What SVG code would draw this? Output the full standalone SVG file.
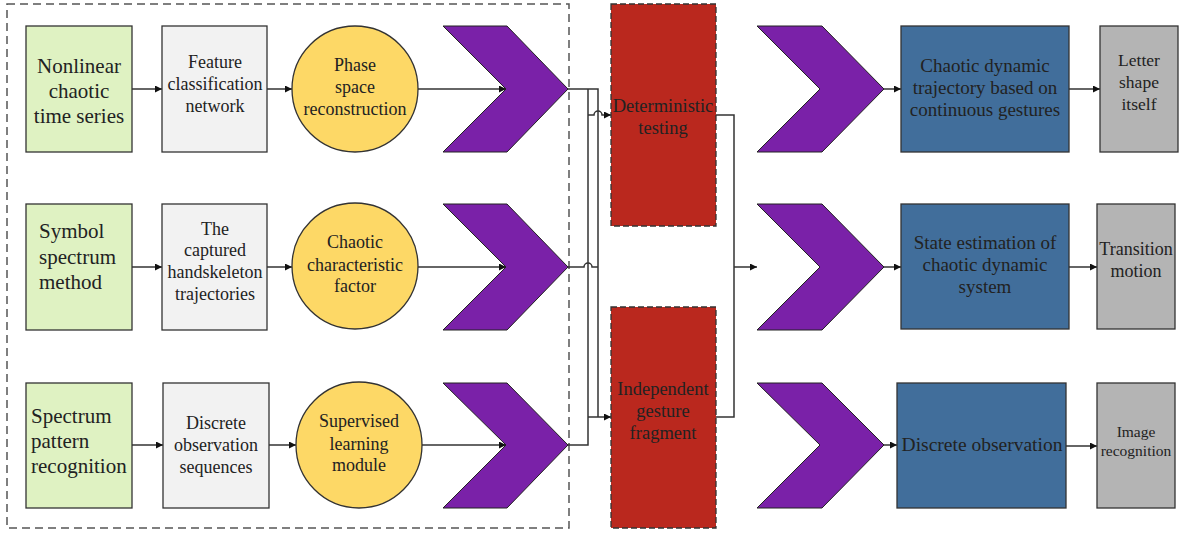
<svg xmlns="http://www.w3.org/2000/svg" width="1183" height="533" viewBox="0 0 1183 533">
<style>
text{font-family:"Liberation Serif","Times New Roman",serif;fill:#222;text-anchor:middle}
.green{fill:#DFF2C2;stroke:#333;stroke-width:1.3}
.lgray{fill:#F2F2F2;stroke:#333;stroke-width:1.3}
.yel{fill:#FDD866;stroke:#333;stroke-width:1.3}
.chev{fill:#7A21A8;stroke:#222;stroke-width:1}
.red{fill:#BA281E;stroke:#333;stroke-width:1.3;stroke-dasharray:6 3}
.blue{fill:#416E9B;stroke:#333;stroke-width:1.3}
.dgray{fill:#B4B4B4;stroke:#333;stroke-width:1.3}
.ln{fill:none;stroke:#333;stroke-width:1.5}
.arr{fill:none;stroke:#333;stroke-width:1.5;marker-end:url(#ah)}
.g21{font-size:21px}
.g18{font-size:18px}
.l{text-anchor:start}
</style>
<defs>
<marker id="ah" viewBox="0 0 10 10" refX="10" refY="5" markerWidth="7" markerHeight="7" orient="auto" markerUnits="userSpaceOnUse">
<path d="M0,0 L10,5 L0,10 z" fill="#111"/>
</marker>
</defs>

<rect x="7" y="4" width="562" height="524" fill="none" stroke="#555" stroke-width="1.5" stroke-dasharray="8 5"/>

<g id="connectors">
<path class="arr" d="M132,89 H162"/>
<path class="arr" d="M267,89 H292"/>
<path class="arr" d="M418,89 H506"/>
<path class="arr" d="M132,267 H162"/>
<path class="arr" d="M267,267 H292"/>
<path class="arr" d="M418,267 H506"/>
<path class="arr" d="M132,445 H163"/>
<path class="arr" d="M269,445 H296"/>
<path class="arr" d="M422,445 H506"/>
<path class="ln" d="M568,89 H598 V417"/>
<path class="ln" d="M568,267 H584 A4,4 0 0 1 592,267 H598"/>
<path class="ln" d="M568,445 H588 V89"/>
<path class="arr" d="M588,115 H594 A4,4 0 0 1 602,115 H611"/>
<path class="arr" d="M588,417 H611"/>
<path class="ln" d="M716,115 H734 V417 H716"/>
<path class="arr" d="M734,267 H757"/>
<path class="arr" d="M884,89 H901"/>
<path class="arr" d="M884,267 H901"/>
<path class="arr" d="M884,445 H897"/>
<path class="arr" d="M1069,89 H1100"/>
<path class="arr" d="M1069,267 H1097"/>
<path class="arr" d="M1066,446 H1097"/>
</g>

<g id="n1"><rect class="green" x="26" y="26" width="106" height="126"/>
<text class="g21" x="79" y="73">Nonlinear</text><text class="g21" x="79" y="98">chaotic</text><text class="g21" x="79" y="123">time series</text></g>
<g id="n2"><rect class="lgray" x="162" y="26" width="105" height="126"/>
<text class="g18" x="215" y="68">Feature</text><text class="g18" x="215" y="90">classification</text><text class="g18" x="215" y="112">network</text></g>
<g id="n3"><circle class="yel" cx="355" cy="89" r="63"/>
<text class="g18" x="355" y="71">Phase</text><text class="g18" x="355" y="93">space</text><text class="g18" x="355" y="115">reconstruction</text></g>
<g id="n4"><polygon class="chev" points="443,26 507,26 568,89 507,152 443,152 506,89"/></g>

<g id="n5"><rect class="green" x="26" y="204" width="106" height="126"/>
<text class="g21 l" x="39" y="238">Symbol</text><text class="g21 l" x="39" y="264">spectrum</text><text class="g21 l" x="39" y="289">method</text></g>
<g id="n6"><rect class="lgray" x="162" y="204" width="105" height="126"/>
<text class="g18" x="215" y="235">The</text><text class="g18" x="215" y="256">captured</text><text class="g18" x="215" y="278">handskeleton</text><text class="g18" x="215" y="300">trajectories</text></g>
<g id="n7"><circle class="yel" cx="355" cy="266" r="63"/>
<text class="g18" x="355" y="248">Chaotic</text><text class="g18" x="355" y="271">characteristic</text><text class="g18" x="355" y="292">factor</text></g>
<g id="n8"><polygon class="chev" points="443,204 507,204 568,267 507,330 443,330 506,267"/></g>

<g id="n9"><rect class="green" x="26" y="383" width="106" height="125"/>
<text class="g21 l" x="31" y="423">Spectrum</text><text class="g21 l" x="31" y="448">pattern</text><text class="g21 l" x="31" y="473">recognition</text></g>
<g id="n10"><rect class="lgray" x="163" y="383" width="106" height="125"/>
<text class="g18" x="216" y="429">Discrete</text><text class="g18" x="216" y="451">observation</text><text class="g18" x="216" y="473">sequences</text></g>
<g id="n11"><circle class="yel" cx="359" cy="445" r="63"/>
<text class="g18" x="359" y="427">Supervised</text><text class="g18" x="359" y="450">learning</text><text class="g18" x="359" y="471">module</text></g>
<g id="n12"><polygon class="chev" points="443,383 507,383 568,445 507,508 443,508 506,445"/></g>

<g id="n13"><rect class="red" x="611" y="4" width="105" height="222"/>
<text x="663" y="112" style="font-size:18.5px">Deterministic</text><text x="663" y="134" style="font-size:18.5px">testing</text></g>
<g id="n14"><rect class="red" x="611" y="307" width="105" height="221"/>
<text x="663" y="395" style="font-size:18.5px">Independent</text><text x="663" y="417" style="font-size:18.5px">gesture</text><text x="663" y="439" style="font-size:18.5px">fragment</text></g>

<g id="n15"><polygon class="chev" points="757,26 822,26 884,89 822,152 757,152 820,89"/></g>
<g id="n16"><polygon class="chev" points="757,204 822,204 884,267 822,330 757,330 820,267"/></g>
<g id="n17"><polygon class="chev" points="757,383 822,383 884,445 822,508 757,508 820,445"/></g>

<g id="n18"><rect class="blue" x="901" y="26" width="168" height="126"/>
<text x="985" y="72" style="font-size:19px">Chaotic dynamic</text><text x="985" y="94" style="font-size:19px">trajectory based on</text><text x="985" y="116" style="font-size:19px">continuous gestures</text></g>
<g id="n19"><rect class="blue" x="901" y="204" width="168" height="125"/>
<text x="985" y="249" style="font-size:19px">State estimation of</text><text x="985" y="271" style="font-size:19px">chaotic dynamic</text><text x="985" y="293" style="font-size:19px">system</text></g>
<g id="n20"><rect class="blue" x="897" y="383" width="169" height="125"/>
<text x="982" y="451" style="font-size:19.5px">Discrete observation</text></g>

<g id="n21"><rect class="dgray" x="1100" y="26" width="78" height="126"/>
<text x="1139" y="66" style="font-size:17.5px">Letter</text><text x="1139" y="88" style="font-size:17.5px">shape</text><text x="1139" y="110" style="font-size:17.5px">itself</text></g>
<g id="n22"><rect class="dgray" x="1097" y="204" width="78" height="125"/>
<text x="1136" y="255" style="font-size:18px">Transition</text><text x="1136" y="277" style="font-size:18px">motion</text></g>
<g id="n23"><rect class="dgray" x="1097" y="383" width="78" height="125"/>
<text x="1136" y="437" style="font-size:15.5px">Image</text><text x="1136" y="456" style="font-size:15.5px">recognition</text></g>
</svg>
